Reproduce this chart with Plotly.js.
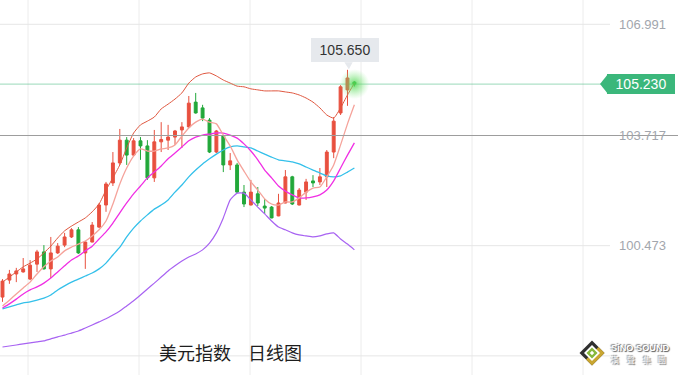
<!DOCTYPE html>
<html><head><meta charset="utf-8">
<script src="https://cdn.plot.ly/plotly-3.0.1.min.js"></script>
<style>html,body{margin:0;padding:0;background:#fff;}#chart{width:678px;height:375px;}</style>
</head><body><div id="chart"></div>
<script>
// ---- data ----
const days = [0,1,2,3,4,5,6,7,8,9,10,11,12,13,14,15,16,17,18,19,20,21,22,23,24,25,26,27,28,29,30,31,32,33,34,35,36,37,38,39,40,41,42,43,44,45,46,47,48,49,50,51];
const openP = [98.96,99.46,99.64,99.70,99.49,99.93,100.29,99.79,100.26,100.49,100.73,100.94,100.26,100.58,101.02,101.67,102.32,102.91,103.58,103.14,103.56,103.41,102.47,103.53,103.58,103.67,103.88,103.97,104.70,104.53,104.17,103.23,103.70,102.85,102.85,102.05,101.67,102.00,101.64,101.61,101.35,101.73,102.50,101.67,102.05,102.38,102.35,102.50,103.23,104.38,105.06,105.29];
const highP = [99.49,99.76,99.82,100.11,100.05,100.35,100.49,100.73,100.55,100.85,100.99,101.02,100.60,101.17,101.73,102.35,103.23,103.91,103.67,103.64,103.67,103.58,103.88,104.11,104.03,103.88,104.11,104.88,104.97,104.62,104.23,103.88,103.73,103.20,102.91,102.26,102.41,102.20,101.85,101.64,102.00,102.70,102.53,102.17,102.44,102.55,102.76,103.29,104.26,105.20,105.65,105.32];
const lowP = [98.82,99.35,99.40,99.68,99.46,99.70,99.77,99.52,100.23,100.43,100.70,100.23,99.79,100.57,100.99,101.47,102.23,102.85,102.85,103.11,103.00,102.41,102.35,103.23,103.29,103.44,103.35,103.94,104.36,104.14,103.20,103.20,102.64,102.70,102.02,101.61,101.66,101.64,101.41,101.28,101.34,101.72,101.67,101.66,101.82,102.20,102.26,102.20,103.05,104.32,104.59,105.16];
const closeP = [99.43,99.64,99.73,99.79,99.90,100.29,99.79,100.26,100.46,100.73,100.94,100.26,100.58,101.08,101.67,102.29,102.91,103.58,103.14,103.56,103.41,102.47,103.53,103.60,103.67,103.85,103.97,104.67,104.38,104.23,103.23,103.85,102.85,102.97,102.05,101.70,102.05,101.73,101.58,101.29,101.73,102.50,101.70,102.11,102.35,102.32,102.50,103.23,104.14,105.15,105.41,105.23];
const upperBand = [99.40,99.55,99.70,99.85,99.96,100.08,100.26,100.46,100.70,100.91,101.05,101.17,101.29,101.47,101.70,102.11,102.47,102.85,103.35,103.79,104.03,104.14,104.26,104.50,104.64,104.79,104.97,105.26,105.44,105.53,105.56,105.47,105.35,105.26,105.17,105.15,105.09,105.06,105.03,105.03,105.03,105.00,104.97,104.91,104.82,104.70,104.53,104.32,104.23,104.53,104.91,105.26];
const ma5 = [98.70,98.87,99.05,99.23,99.40,99.64,99.85,100.02,100.14,100.32,100.43,100.52,100.61,100.76,100.94,101.20,101.70,102.29,102.76,103.11,103.32,103.26,103.26,103.32,103.35,103.44,103.70,103.94,104.11,104.20,104.11,104.06,103.73,103.41,103.00,102.67,102.35,102.11,101.85,101.70,101.67,101.76,101.76,101.88,102.05,102.17,102.20,102.50,102.85,103.44,104.06,104.62];
const ma10 = [98.64,98.76,98.90,99.05,99.17,99.26,99.37,99.52,99.70,99.88,100.05,100.17,100.32,100.46,100.67,100.88,101.14,101.44,101.73,102.00,102.23,102.47,102.64,102.82,103.03,103.20,103.38,103.56,103.67,103.73,103.76,103.79,103.79,103.73,103.64,103.47,103.26,103.00,102.70,102.47,102.23,102.08,101.97,101.88,101.88,101.91,101.97,102.11,102.38,102.76,103.14,103.50];
const ma20 = [98.61,98.67,98.73,98.79,98.82,98.87,98.93,99.02,99.17,99.29,99.40,99.49,99.58,99.67,99.79,99.96,100.20,100.43,100.73,100.99,101.20,101.38,101.55,101.67,101.82,102.05,102.26,102.50,102.70,102.88,103.03,103.17,103.29,103.38,103.41,103.38,103.35,103.26,103.17,103.08,103.00,102.97,102.94,102.88,102.79,102.70,102.61,102.53,102.50,102.53,102.64,102.76];
const lowerBand = [97.49,97.52,97.55,97.58,97.61,97.64,97.67,97.73,97.79,97.84,97.90,97.96,98.05,98.14,98.23,98.32,98.43,98.55,98.70,98.85,99.02,99.20,99.37,99.55,99.73,99.88,100.02,100.14,100.23,100.35,100.55,100.85,101.29,101.82,102.02,102.02,101.82,101.61,101.41,101.20,101.02,100.94,100.85,100.79,100.76,100.73,100.76,100.82,100.85,100.67,100.52,100.35];
const tickVals = [106.991, 103.717, 100.473];
const tickText = ['106.991', '103.717', '100.473'];
const gridVals = [106.991, 103.717, 100.473, 97.229];
const lastPrice = 105.230;
const lastText = '105.230';
const peakHigh = 105.650;
const peakText = '105.650';
const titleParts = ['美元指数', '日线图'];
const logoName = 'SiNO SOUND';
const logoCn = ['漢', '聲', '集', '團'];

// ---- layout helpers ----
const W = 678, H = 375;
const yRange = [96.666, 107.706];
const xRange = [-0.362, 97.9];
const yPerPx = (yRange[1] - yRange[0]) / H;
const px = v => v / W;
const py = v => 1 - v / H;
const RED = '#e8503f', GREEN = '#22a83a';

const traces = [
  {
    type: 'candlestick', x: days, open: openP, high: highP, low: lowP, close: closeP,
    increasing: {line: {color: RED, width: 1}, fillcolor: RED},
    decreasing: {line: {color: GREEN, width: 1}, fillcolor: GREEN},
    whiskerwidth: 0, hoverinfo: 'skip', showlegend: false
  },
  {type:'scatter', mode:'lines', x: days, y: lowerBand, line:{color:'#a863f2', width:1.2, shape:'spline', smoothing:0.5}, hoverinfo:'skip', showlegend:false},
  {type:'scatter', mode:'lines', x: days, y: ma20, line:{color:'#34c0ea', width:1.3, shape:'spline', smoothing:0.5}, hoverinfo:'skip', showlegend:false},
  {type:'scatter', mode:'lines', x: days, y: ma10, line:{color:'#f02fe4', width:1.3, shape:'spline', smoothing:0.5}, hoverinfo:'skip', showlegend:false},
  {type:'scatter', mode:'lines', x: days, y: ma5, line:{color:'#f5a39b', width:1.3, shape:'spline', smoothing:0.5}, hoverinfo:'skip', showlegend:false},
  {type:'scatter', mode:'lines', x: days, y: upperBand, line:{color:'#e0573f', width:1, shape:'spline', smoothing:0.5}, hoverinfo:'skip', showlegend:false},
  {type:'scatter', mode:'markers', x:[days[days.length-1]], y:[lastPrice],
   marker:{size:30, color:'rgba(140,235,140,0)', gradient:{type:'radial', color:'rgba(80,215,80,0.85)'}, line:{width:0, color:'rgba(0,0,0,0)'}},
   hoverinfo:'skip', showlegend:false}
];

const shapes = [];
// vertical grid lines
[28, 139, 250, 361, 472, 583].forEach(x => shapes.push({type:'line', xref:'paper', yref:'paper', x0:px(x), x1:px(x), y0:0, y1:1, line:{color:'#ececec', width:1}, layer:'below'}));
// horizontal grid lines at ticks
gridVals.forEach(v => shapes.push({type:'line', xref:'paper', yref:'y', x0:0, x1:px(610), y0:v, y1:v, line:{color:'#e6e6e6', width:1}, layer:'below'}));
// current price line
shapes.push({type:'line', xref:'paper', yref:'y', x0:0, x1:px(601), y0:lastPrice, y1:lastPrice, line:{color:'rgba(70,185,125,0.55)', width:1}, layer:'below'});
// crosshair line
shapes.push({type:'line', xref:'paper', yref:'y', x0:0, x1:1, y0:tickVals[1], y1:tickVals[1], line:{color:'#9d9d9d', width:1}, layer:'above'});
// price tag arrow
shapes.push({type:'path', xref:'paper', yref:'y', layer:'above', line:{width:0}, fillcolor:'#3bb77b',
  path:`M ${px(600)},${lastPrice} L ${px(608)},${lastPrice + 10*yPerPx} L ${px(608)},${lastPrice - 10*yPerPx} Z`});
// callout pointer
const tipX = days[50];
shapes.push({type:'path', xref:'x', yref:'y', layer:'above', line:{width:0}, fillcolor:'#e6e9ed',
  path:`M ${tipX-0.45},${peakHigh + 7.5*yPerPx} L ${tipX+0.75},${peakHigh + 7.5*yPerPx} L ${tipX+0.2},${peakHigh + 0.5*yPerPx} Z`});
// logo diamond
const dia = (cx, cy, r) => `M ${px(cx)},${py(cy-r)} L ${px(cx+r)},${py(cy)} L ${px(cx)},${py(cy+r)} L ${px(cx-r)},${py(cy)} Z`;
shapes.push({type:'path', xref:'paper', yref:'paper', line:{width:0}, fillcolor:'#2f2f2f', path: dia(592, 353, 12.5)});
shapes.push({type:'path', xref:'paper', yref:'paper', line:{width:0}, fillcolor:'#c9a631',
  path:`M ${px(604.5)},${py(353)} L ${px(592)},${py(365.5)} L ${px(586)},${py(359.5)} L ${px(598.5)},${py(347)} Z`});
shapes.push({type:'path', xref:'paper', yref:'paper', line:{width:0}, fillcolor:'#ffffff', path: dia(592, 353, 8)});
shapes.push({type:'path', xref:'paper', yref:'paper', line:{width:0}, fillcolor:'#86b83c', path: dia(592, 353, 5.5)});
shapes.push({type:'path', xref:'paper', yref:'paper', line:{width:0}, fillcolor:'#ffffff', path: dia(592, 353, 2.2)});

const annotations = [];
tickVals.forEach((v, i) => annotations.push({xref:'paper', yref:'y', x:px(617), y:v, xanchor:'left', yanchor:'middle',
  text: tickText[i], showarrow:false, font:{size:13, color:'#a2a6ad', family:'Liberation Sans, Arial, sans-serif'}}));
annotations.push({xref:'paper', yref:'y', x:px(675), y:lastPrice, xanchor:'right', yanchor:'middle', text:lastText, showarrow:false,
  bgcolor:'#3bb77b', borderpad:2, borderwidth:0, width:64, height:16, font:{size:14, color:'#ffffff', family:'Liberation Sans, Arial, sans-serif'}});
annotations.push({xref:'x', yref:'y', x:tipX, y:peakHigh, xanchor:'center', yanchor:'bottom', yshift:7.5, xshift:-2, text:peakText, showarrow:false,
  bgcolor:'#e6e9ed', borderpad:4, borderwidth:0, width:60, height:16, font:{size:14, color:'#333333', family:'Liberation Sans, Arial, sans-serif'}});
annotations.push({xref:'paper', yref:'paper', x:px(195), y:py(352), xanchor:'center', yanchor:'middle', text:titleParts[0], showarrow:false,
  font:{size:18, color:'#1e1e1e', family:'Noto Sans CJK SC, sans-serif'}});
annotations.push({xref:'paper', yref:'paper', x:px(274.5), y:py(352), xanchor:'center', yanchor:'middle', text:titleParts[1], showarrow:false,
  font:{size:18, color:'#1e1e1e', family:'Noto Sans CJK SC, sans-serif'}});
const logoShadow = '1px 1px 1px #555, -1px -1px 1px #888';
annotations.push({xref:'paper', yref:'paper', x:px(610), y:py(347.5), xanchor:'left', yanchor:'middle', text:'<b>'+logoName+'</b>', showarrow:false,
  borderpad:0, font:{size:9.2, color:'#ffffff', family:'Liberation Sans, Arial, sans-serif', shadow:logoShadow}});
[614.5, 631, 646.5, 662].forEach((x, i) => annotations.push({xref:'paper', yref:'paper', x:px(x), y:py(359), xanchor:'center', yanchor:'middle',
  text:logoCn[i], showarrow:false, borderpad:0, font:{size:8, color:'#ffffff', family:'Noto Sans CJK TC, sans-serif', shadow:logoShadow}}));

const layout = {
  width: W, height: H, margin:{l:0, r:0, t:0, b:0},
  paper_bgcolor:'#ffffff', plot_bgcolor:'#ffffff',
  font:{family:'Liberation Sans, Arial, sans-serif'},
  showlegend:false, hovermode:false, boxgap:0.4,
  xaxis:{range:xRange, showgrid:false, zeroline:false, showticklabels:false, ticks:'', showline:false, rangeslider:{visible:false}, fixedrange:true},
  yaxis:{range:yRange, showgrid:false, zeroline:false, showticklabels:false, ticks:'', showline:false, fixedrange:true},
  shapes, annotations
};
Plotly.newPlot('chart', traces, layout, {displayModeBar:false, staticPlot:true});
</script></body></html>
